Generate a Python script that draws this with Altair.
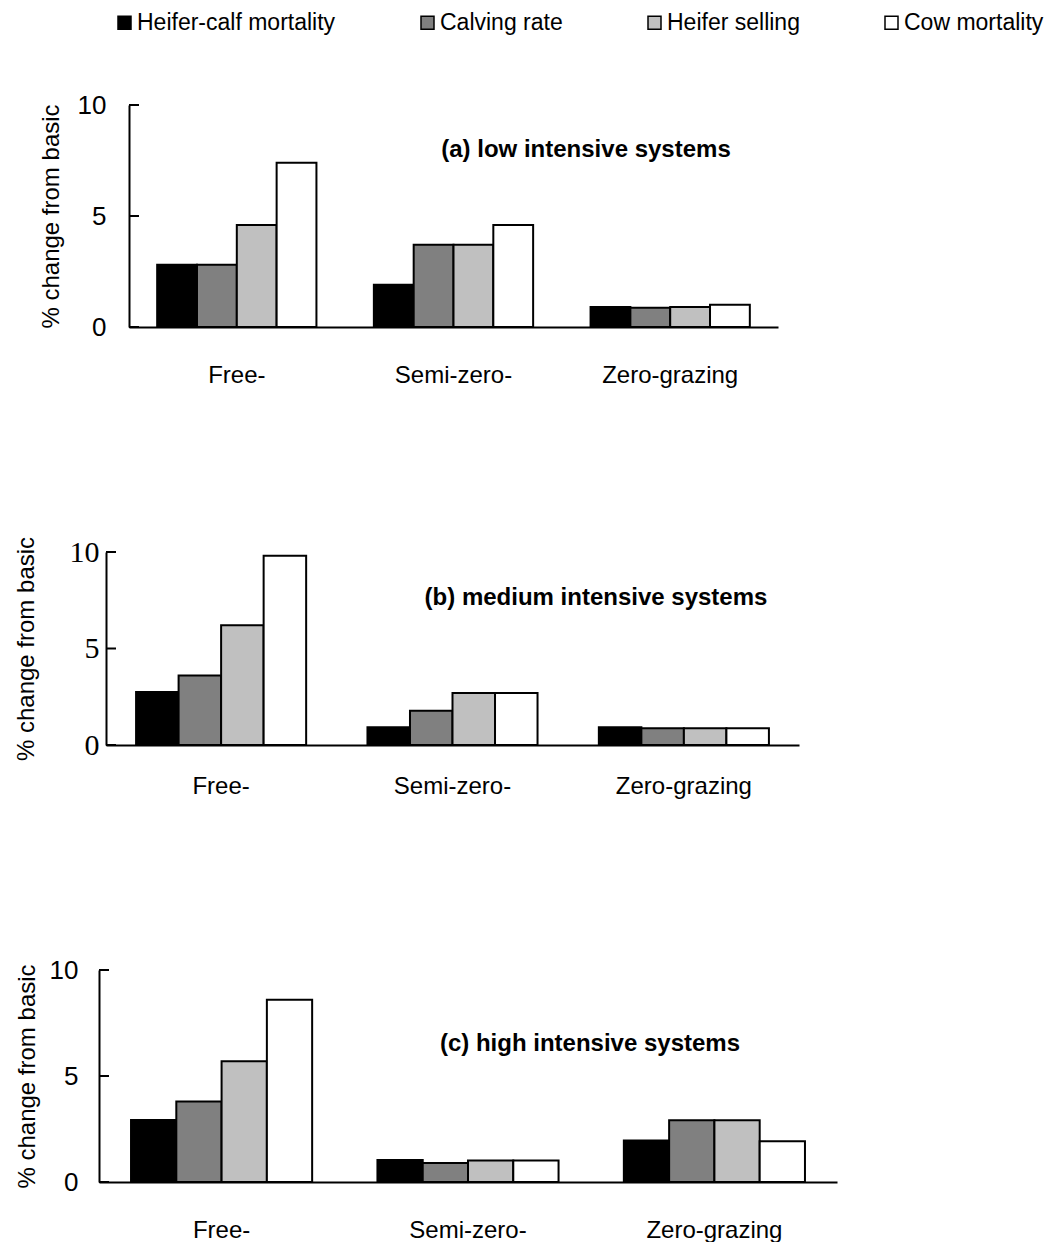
import altair as alt
import pandas as pd

categories = ["Free-", "Semi-zero-", "Zero-grazing"]
series = ["Heifer-calf mortality", "Calving rate", "Heifer selling", "Cow mortality"]
colors = ["#000000", "#808080", "#c0c0c0", "#ffffff"]

# values per series, in category order (Free-, Semi-zero-, Zero-grazing)
low_hc = [2.8, 1.9, 0.9]
low_cr = [2.8, 3.7, 0.87]
low_hs = [4.6, 3.7, 0.9]
low_cm = [7.4, 4.6, 1.0]

med_hc = [2.75, 0.92, 0.92]
med_cr = [3.6, 1.78, 0.87]
med_hs = [6.2, 2.7, 0.87]
med_cm = [9.8, 2.7, 0.87]

high_hc = [2.93, 1.04, 1.96]
high_cr = [3.8, 0.9, 2.91]
high_hs = [5.69, 1.01, 2.91]
high_cm = [8.6, 1.01, 1.92]

y_ticks = [0, 5, 10]
titles = ["(a) low intensive systems", "(b) medium intensive systems", "(c) high intensive systems"]
y_title = "% change from basic"


def make_df(hc, cr, hs, cm):
    rows = []
    for s, vals in zip(series, [hc, cr, hs, cm]):
        for c, v in zip(categories, vals):
            rows.append({"category": c, "series": s, "value": v})
    return pd.DataFrame(rows)


def panel(df, title, r0, w, h, yoff, tick_font, tick_size, lab_pad, title_pad,
          xlab_pad, tx, ty, show_legend):
    xscale = alt.Scale(range=[r0, r0 + w], paddingInner=0.265, paddingOuter=0.13)
    yscale = alt.Scale(domain=[0, 10], nice=False, zero=True)
    legend = None
    if show_legend:
        legend = alt.Legend(
            title=None, orient="none", legendX=14, legendY=-94, direction="horizontal",
            columns=4, symbolType="square", symbolSize=169, symbolStrokeColor="black",
            symbolStrokeWidth=1.5, labelFont="Liberation Sans", labelFontSize=23,
            labelColor="black", labelOffset=1, columnPadding=80, labelLimit=400,
            padding=0, gridAlign="each")
    bars = alt.Chart(df).mark_bar(stroke="black", strokeWidth=2).encode(
        x=alt.X("category:N", sort=categories, scale=xscale,
                axis=alt.Axis(title=None, labelAngle=0, ticks=False, tickSize=0,
                              domainColor="black", domainWidth=2,
                              labelFont="Liberation Sans", labelFontSize=24,
                              labelColor="black", labelPadding=xlab_pad)),
        xOffset=alt.XOffset("series:N", sort=series,
                            scale=alt.Scale(paddingInner=0, paddingOuter=0)),
        y=alt.Y("value:Q", scale=yscale,
                axis=alt.Axis(title=y_title, values=y_ticks, ticks=False, tickSize=0,
                              grid=False, offset=yoff, domainColor="black", domainWidth=2,
                              labelFont=tick_font, labelFontSize=tick_size,
                              labelColor="black", labelPadding=lab_pad,
                              titleFont="Liberation Sans", titleFontSize=24,
                              titleFontWeight="normal", titleColor="black",
                              titlePadding=title_pad)),
        color=alt.Color("series:N", sort=series,
                        scale=alt.Scale(domain=series, range=colors), legend=legend),
    )
    ticks = alt.Chart(pd.DataFrame({"value": y_ticks})).mark_rule(
        color="black", strokeWidth=2).encode(
        y=alt.Y("value:Q", scale=yscale),
        x=alt.value(r0), x2=alt.value(r0 + 10))
    label = alt.Chart(pd.DataFrame({"t": [title]})).mark_text(
        font="Liberation Sans", fontSize=24, fontWeight="bold", color="black",
        align="center", baseline="middle").encode(
        text="t:N", x=alt.value(tx), y=alt.value(ty))
    return alt.layer(bars, ticks, label).properties(width=738, height=h)


pa = panel(make_df(low_hc, low_cr, low_hs, low_cm), titles[0], 30, 649, 222, -30,
           "Liberation Sans", 26, 23, 14, 36, 487, 45, True)
pb = panel(make_df(med_hc, med_cr, med_hs, med_cm), titles[1], 7, 693, 193, -7,
           "Liberation Serif", 30, 7, 31, 29, 497, 46, False)
pc = panel(make_df(high_hc, high_cr, high_hs, high_cm), titles[2], 0, 738, 212, 0,
           "Liberation Sans", 26, 21, 10, 36, 491, 74, False)

chart = alt.vconcat(pa, pb, pc, spacing=225, bounds="flush").resolve_scale(
    color="shared", x="independent", y="independent", xOffset="independent"
).properties(
    padding={"left": 6, "top": 3, "right": 0, "bottom": 0}
).configure(
    font="Liberation Sans", view=alt.ViewConfig(stroke=None)
)

chart.save("out.html", embed_options={"renderer": "svg", "actions": False})
